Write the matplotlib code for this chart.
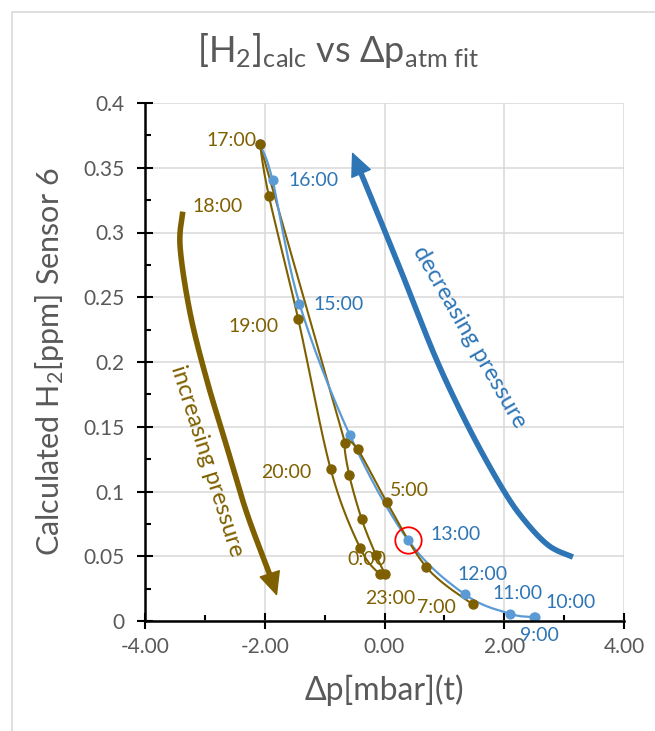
import numpy as np
import matplotlib
matplotlib.use("Agg")
import matplotlib.pyplot as plt
from matplotlib.patches import Rectangle

plt.rcParams['font.family'] = ['Lato', 'DejaVu Sans']
plt.rcParams['mathtext.fontset'] = 'custom'
plt.rcParams['mathtext.rm'] = 'Lato'
plt.rcParams['mathtext.it'] = 'Lato'

# ---------------- data ----------------
dec_times = ["9:00", "10:00", "11:00", "12:00", "13:00", "14:00", "15:00", "16:00", "17:00"]
dec_dp = [2.50, 2.52, 2.10, 1.34, 0.39, -0.58, -1.42, -1.87, -2.08]
dec_h2 = [0.003, 0.003, 0.0055, 0.0206, 0.0627, 0.1436, 0.245, 0.3405, 0.368]

inc_times = ["17:00", "18:00", "19:00", "20:00", "21:00", "22:00", "23:00", "0:00",
             "1:00", "2:00", "3:00", "4:00", "5:00", "6:00", "7:00"]
inc_dp = [-2.08, -1.93, -1.44, -0.90, -0.41, -0.075, 0.005, -0.145,
          -0.38, -0.59, -0.66, -0.45, 0.036, 0.70, 1.47]
inc_h2 = [0.368, 0.328, 0.233, 0.1174, 0.0566, 0.036, 0.036, 0.051,
          0.0785, 0.113, 0.1377, 0.1326, 0.092, 0.0415, 0.0129]

x_ticks = [-4, -2, 0, 2, 4]
x_ticklabels = ["-4.00", "-2.00", "0.00", "2.00", "4.00"]
y_ticks = [0, 0.05, 0.1, 0.15, 0.2, 0.25, 0.3, 0.35, 0.4]
y_ticklabels = ["0", "0.05", "0.1", "0.15", "0.2", "0.25", "0.3", "0.35", "0.4"]

highlight_time = "13:00"

# labels shown (time -> offset in pixels: dx, dy up)
dec_labels = {"16:00": (41, 0), "15:00": (39, -1), "13:00": (48, 5), "12:00": (18, 20),
              "11:00": (7, 20), "10:00": (35, 15), "9:00": (5, -18)}
inc_labels = {"17:00": (-28, 4), "18:00": (-51, -10), "19:00": (-45, -7), "20:00": (-44, -4),
              "5:00": (23, 11), "7:00": (-36, -3), "23:00": (5, -24), "0:00": (-9, -5)}

# annotation arrow shapes (axes data coords)
inc_arrow = ([-3.369, -3.414, -3.247, -2.968, -2.634, -2.300, -1.883, -1.795],
             [0.3161, 0.289, 0.2378, 0.1861, 0.1346, 0.0834, 0.0317, 0.0193])
dec_arrow = ([3.147, 2.75, 2.35, 1.983, 1.427, 0.871, 0.314, -0.242, -0.543],
             [0.0494, 0.058, 0.077, 0.1012, 0.1475, 0.2015, 0.2659, 0.329, 0.3622])

BROWN = "#7F6000"
BLUE_L = "#5B9BD5"
BLUE_D = "#2E75B6"
GREY_T = "#595959"

W, H, DPI = 655, 731, 100
fig = plt.figure(figsize=(W / DPI, H / DPI), dpi=DPI)
fig.patch.set_facecolor("white")
fig.patches.append(Rectangle((12 / W, -0.1), 1.2, (H - 12) / H + 0.1, transform=fig.transFigure,
                             fill=False, ec="#D9D9D9", lw=1.2))

ax_l, ax_r, ax_t, ax_b = 145, 624, 103, 621
ax = fig.add_axes([ax_l / W, (H - ax_b) / H, (ax_r - ax_l) / W, (ax_b - ax_t) / H])
ax.set_xlim(-4, 4)
ax.set_ylim(0, 0.4)
sx = (ax_r - ax_l) / 8.0
sy = (ax_b - ax_t) / 0.4


def smooth(xs, ys, n=24):
    P = np.column_stack([np.asarray(xs, float) * sx, np.asarray(ys, float) * sy])
    P = np.vstack([P[0], P, P[-1]])
    out = []
    for i in range(1, len(P) - 2):
        p0, p1, p2, p3 = P[i - 1], P[i], P[i + 1], P[i + 2]
        c1 = p1 + (p2 - p0) / 6.0
        c2 = p2 - (p3 - p1) / 6.0
        t = np.linspace(0, 1, n)[:, None]
        seg = (1 - t) ** 3 * p1 + 3 * (1 - t) ** 2 * t * c1 + 3 * (1 - t) * t ** 2 * c2 + t ** 3 * p2
        out.append(seg if i == 1 else seg[1:])
    pts = np.vstack(out)
    return pts[:, 0] / sx, pts[:, 1] / sy


# grid
ax.set_xticks(x_ticks)
ax.set_xticklabels(x_ticklabels)
ax.set_yticks(y_ticks)
ax.set_yticklabels(y_ticklabels)
ax.set_xticks([-3, -1, 1, 3], minor=True)
ax.set_yticks(np.arange(0.025, 0.4, 0.05), minor=True)
ax.grid(True, which="major", color="#D9D9D9", lw=1.1)
ax.set_axisbelow(True)
for s in ["top", "right"]:
    ax.spines[s].set_visible(False)
for s in ["left", "bottom"]:
    ax.spines[s].set_linewidth(1.8)
    ax.spines[s].set_color("black")
    ax.spines[s].set_zorder(6)
ax.tick_params(which="major", direction="inout", length=11, width=1.5, colors="black",
               labelcolor=GREY_T, labelsize=15)
ax.tick_params(axis="x", which="major", pad=6)
ax.tick_params(axis="y", which="major", pad=9)
ax.tick_params(which="minor", direction="in", length=4.5, width=1.5, colors="black")

# hidden closing segment of the brown series
i17 = inc_times.index("17:00")
i3 = inc_times.index("3:00")
ax.plot([inc_dp[i17], inc_dp[i3]], [inc_h2[i17], inc_h2[i3]], color=BROWN, lw=1.5, zorder=2)

# decreasing (blue) series
bx, by = smooth(dec_dp, dec_h2)
ax.plot(bx, by, color=BLUE_L, lw=1.6, zorder=3)
ax.plot(dec_dp, dec_h2, "o", color=BLUE_L, ms=6.3, zorder=4)

# increasing (brown) series
cx, cy = smooth(inc_dp, inc_h2)
ax.plot(cx, cy, color=BROWN, lw=1.5, zorder=3)
ax.plot(inc_dp, inc_h2, "o", color=BROWN, ms=6.5, zorder=5)

# highlight circle
ih = dec_times.index(highlight_time)
ax.plot(dec_dp[ih], dec_h2[ih], "o", mfc="none", mec="red", ms=19, mew=1.3, zorder=6)

# labels
for t, (dx, dy) in dec_labels.items():
    i = dec_times.index(t)
    ax.annotate(t, (dec_dp[i], dec_h2[i]), xytext=(dx * 0.72, dy * 0.72), textcoords="offset points",
                ha="center", va="center", color=BLUE_D, fontsize=14, zorder=7)
for t, (dx, dy) in inc_labels.items():
    i = inc_times.index(t)
    ax.annotate(t, (inc_dp[i], inc_h2[i]), xytext=(dx * 0.72, dy * 0.72), textcoords="offset points",
                ha="center", va="center", color=BROWN, fontsize=14, zorder=7)


def big_arrow(xs, ys, color):
    px, py = smooth(xs, ys, n=30)
    dist = np.hypot((px - px[-1]) * sx, (py - py[-1]) * sy)
    k = np.where(dist > 16)[0][-1]
    ax.plot(px[:k + 1], py[:k + 1], color=color, lw=4, solid_capstyle="butt", zorder=2)
    ax.annotate("", xy=(px[-1], py[-1]), xytext=(px[k], py[k]),
                arrowprops=dict(arrowstyle="-|>,head_length=1.3,head_width=0.6", color=color,
                                lw=1, mutation_scale=12, shrinkA=0, shrinkB=0), zorder=2)


big_arrow(inc_arrow[0], inc_arrow[1], BROWN)
big_arrow(dec_arrow[0], dec_arrow[1], BLUE_D)

ax.text(-2.96, 0.124, "increasing pressure", rotation=-72.5, rotation_mode="anchor",
        ha="center", va="center", color=BROWN, fontsize=17, zorder=7)
ax.text(1.43, 0.219, "decreasing pressure", rotation=-60, rotation_mode="anchor",
        ha="center", va="center", color=BLUE_D, fontsize=17, zorder=7)

# titles
fig.text(338 / W, 1 - 50 / H, r"[H$\mathregular{_2}$]$\mathregular{_{calc}}$ vs Δp$\mathregular{_{atm\ fit}}$",
         ha="center", va="center", fontsize=26, color=GREY_T)
fig.text(384 / W, 1 - 690 / H, "Δp[mbar](t)", ha="center", va="center", fontsize=23, color=GREY_T)
fig.text(50 / W, 1 - 362 / H, r"Calculated H$\mathregular{_2}$[ppm] Sensor 6", rotation=90,
         ha="center", va="center", fontsize=22, color=GREY_T)

fig.savefig("out.png", dpi=DPI)
